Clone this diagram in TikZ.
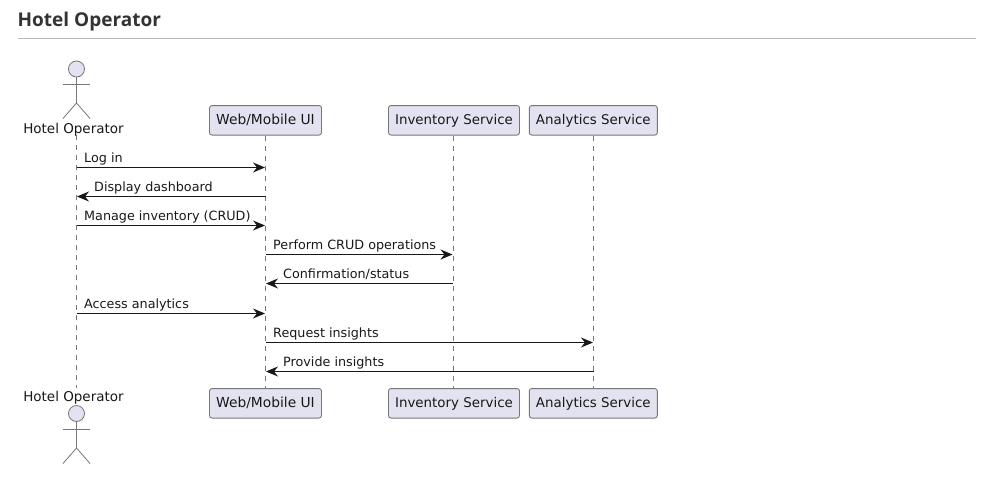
\documentclass[tikz,border=0pt]{standalone}
\usepackage{fontspec}
\setmainfont{DejaVu Sans}
\newfontfamily\titlefont{Open Sans}
\usetikzlibrary{arrows.meta}
\definecolor{partfill}{HTML}{E2E2F0}
\definecolor{partline}{HTML}{181818}
\definecolor{lifeline}{HTML}{777777}
\definecolor{titlecol}{HTML}{333333}
\tikzset{
  x=1pt,y=-1pt,
  box/.style={draw=lifeline,fill=partfill,rounded corners=2.5pt,line width=0.9pt,minimum height=29.5pt,inner sep=0pt,font=\fontsize{13.4}{16}\selectfont,text=black!90},
  webtext/.style={font=\fontsize{13.8}{16}\selectfont},
  actortext/.style={inner sep=0pt,font=\fontsize{13.5}{16}\selectfont,text=black!90},
  life/.style={draw=lifeline,line width=0.8pt,dash pattern=on 5pt off 5pt},
  stick/.style={draw=lifeline,line width=0.8pt},
  head/.style={draw=lifeline,fill=partfill,circle,minimum size=16pt,inner sep=0pt,line width=0.8pt},
  msg/.style={draw=partline,line width=0.9pt,-{Stealth[length=12pt,width=10pt,inset=4pt,fill=partline]},shorten >=0.5pt},
  lab/.style={inner sep=0pt,anchor=base west,font=\fontsize{12.75}{15}\selectfont,text=black!90},
}
\begin{document}
\begin{tikzpicture}
\useasboundingbox (0,0) rectangle (996,480);
\fill[white] (0,0) rectangle (996,480);
% title
\node[inner sep=0pt,anchor=base west,font=\titlefont\bfseries\fontsize{19}{24}\selectfont,text=titlecol] (title) at (17.5,26) {Hotel Operator};
\coordinate (ruleL) at (18,38.5);
\coordinate (ruleR) at (976,38.5);
\draw[draw=black!27,line width=0.9pt] (ruleL) -- (ruleR);
% lifeline ends
\coordinate (ha) at (76.5,135);  \coordinate (hb) at (76.5,388);
\node[box,webtext,minimum width=112pt] (wa) at (265.5,120.3) {Web/Mobile UI};
\node[box,minimum width=131pt] (ia) at (454,120.3) {Inventory Service};
\node[box,minimum width=128pt] (aa) at (593.3,120.3) {Analytics Service};
\node[box,webtext,minimum width=112pt] (wb) at (265.5,403.3) {Web/Mobile UI};
\node[box,minimum width=131pt] (ib) at (454,403.3) {Inventory Service};
\node[box,minimum width=128pt] (ab) at (593.3,403.3) {Analytics Service};
\coordinate (wx) at (265.5,0); \coordinate (ix) at (453,0); \coordinate (ax) at (593.5,0);
\draw[life] (ha) -- (hb);
\draw[life] (wa.south -| wx) -- (wb.north -| wx);
\draw[life] (ia.south -| ix) -- (ib.north -| ix);
\draw[life] (aa.south -| ax) -- (ab.north -| ax);
% actor top
\node[head] (headT) at (76.5,69) {};
\coordinate (armLT) at (63,84.5); \coordinate (armRT) at (90,84.5);
\coordinate (hipT) at (76.5,103); \coordinate (footLT) at (63,118.5); \coordinate (footRT) at (90,118.5);
\draw[stick] (headT.south) -- (hipT);
\draw[stick] (armLT) -- (armRT);
\draw[stick] (footLT) -- (hipT) -- (footRT);
\node[actortext] (actT) at (73.5,130) {Hotel Operator};
% actor bottom
\node[head] (headB) at (76.5,413.5) {};
\coordinate (armLB) at (63,429.5); \coordinate (armRB) at (90,429.5);
\coordinate (hipB) at (76.5,448); \coordinate (footLB) at (63,463.5); \coordinate (footRB) at (90,463.5);
\draw[stick] (headB.south) -- (hipB);
\draw[stick] (armLB) -- (armRB);
\draw[stick] (footLB) -- (hipB) -- (footRB);
\node[actortext] (actB) at (73.5,398) {Hotel Operator};
% message anchors
\foreach \n/\y in {1/167.5,2/196.5,3/225.5,4/254.5,5/283.5,6/313.5,7/342.5,8/371.5}{
  \coordinate (h\n) at (76.5,\y);
  \coordinate (w\n) at (265.5,\y);
  \coordinate (i\n) at (453,\y);
  \coordinate (a\n) at (593.5,\y);
}
\draw[msg] (h1) -- (w1);
\draw[msg] (w2) -- (h2);
\draw[msg] (h3) -- (w3);
\draw[msg] (w4) -- (i4);
\draw[msg] (i5) -- (w5);
\draw[msg] (h6) -- (w6);
\draw[msg] (w7) -- (a7);
\draw[msg] (a8) -- (w8);
\node[lab] (m1) at (84,162.7) {Log in};
\node[lab] (m2) at (94,191.5) {Display dashboard};
\node[lab] (m3) at (84,220.7) {Manage inventory (CRUD)};
\node[lab] (m4) at (273,249.7) {Perform CRUD operations};
\node[lab] (m5) at (283,278.7) {Confirmation/status};
\node[lab] (m6) at (84,308.7) {Access analytics};
\node[lab] (m7) at (273,337.7) {Request insights};
\node[lab] (m8) at (283,366.5) {Provide insights};
\end{tikzpicture}
\end{document}
